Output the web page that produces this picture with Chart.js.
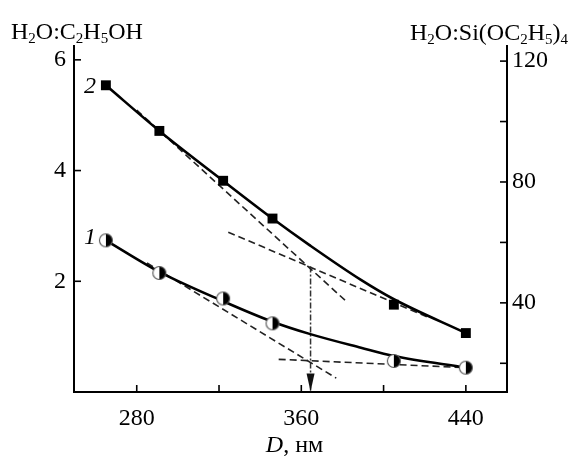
<!DOCTYPE html>
<html>
<head>
<meta charset="utf-8">
<script src="https://cdn.jsdelivr.net/npm/chart.js@4.4.0/dist/chart.umd.min.js"></script>
<style>
  html, body { margin: 0; padding: 0; background: #fff; }
  #wrap { width: 570px; height: 458px; }
</style>
</head>
<body>
<div id="wrap"><canvas id="chart" width="570" height="458"></canvas></div>
<script>
// Dados
const diam = [265, 291, 322, 346, 405, 440];            // D, нм
const ratioEtOH = [2.74, 2.15, 1.69, 1.24, 0.56, 0.44]; // curva 1, eixo esquerdo
const ratioTeos = [112, 96.9, 80.4, 67.9, 39.4, 30.0];  // curva 2, eixo direito

// curvas suaves (ajuste desenhado no original)
const fitDiam = [265, 291, 322, 346, 364, 389, 405, 440];
const fitEtOH = [2.74, 2.17, 1.64, 1.27, 1.05, 0.80, 0.65, 0.44];
const fitTeos = [112, 96.9, 80.4, 67.9, 59.1, 47.6, 41.2, 30.0];

const xTicks = [280, 320, 360, 400, 440];
const xLabels = [280, 360, 440];
const yTicks = [2, 4, 6];
const y2Ticks = [20, 40, 60, 80, 100, 120];
const y2Labels = [40, 80, 120];

// tangentes (tracejadas)
const tanTeosX1 = [280, 382], tanTeosY1 = [103.8, 40.4];
const tanTeosX2 = [324.5, 421], tanTeosY2 = [63.4, 35.4];
const tanEtohX1 = [285, 377], tanEtohY1 = [2.33, 0.25];
const tanEtohX2 = [349, 440], tanEtohY2 = [0.59, 0.44];
// seta vertical
const arrowX = [364.5, 364.5], arrowY = [52, 11];

const FONT = "'Liberation Serif', 'Times New Roman', serif";
const FS = 24;

function pts(xs, ys) {
    return xs.map((x, i) => ({ x: x, y: ys[i] }));
}

// marcador: círculo metade branco, metade preto
function halfCircle() {
    const c = document.createElement('canvas');
    c.width = 16; c.height = 16;
    const g = c.getContext('2d');
    g.beginPath(); g.arc(8, 8, 6.5, 0, Math.PI * 2);
    g.fillStyle = '#fff'; g.fill();
    g.beginPath(); g.arc(8, 8, 6.5, -Math.PI / 2, Math.PI / 2);
    g.closePath(); g.fillStyle = '#000'; g.fill();
    g.beginPath(); g.arc(8, 8, 6.5, 0, Math.PI * 2);
    g.lineWidth = 1.1; g.strokeStyle = '#555'; g.stroke();
    return c;
}

// texto com subscritos
function drawRich(ctx, parts, x, y, align) {
    const big = FS + 'px ' + FONT, small = Math.round(FS * 0.62) + 'px ' + FONT;
    let w = 0;
    parts.forEach(p => { ctx.font = p[1] ? small : big; w += ctx.measureText(p[0]).width; });
    let cx = align === 'right' ? x - w : x;
    ctx.textAlign = 'left';
    ctx.textBaseline = 'alphabetic';
    parts.forEach(p => {
        ctx.font = p[1] ? small : big;
        ctx.fillText(p[0], cx, p[1] ? y + 4 : y);
        cx += ctx.measureText(p[0]).width;
    });
}

const dashed = { borderColor: '#222', borderWidth: 1.6, borderDash: [7, 4], pointRadius: 0, fill: false, tension: 0, order: 3 };

const decor = {
    id: 'decor',
    afterDraw(chart) {
        const ctx = chart.ctx;
        const { x, y, y2 } = chart.scales;
        const a = chart.chartArea;
        ctx.save();
        ctx.strokeStyle = '#000';
        ctx.lineWidth = 1.6;
        // marcas internas
        xTicks.forEach(v => {
            const px = x.getPixelForValue(v);
            ctx.beginPath(); ctx.moveTo(px, a.bottom); ctx.lineTo(px, a.bottom - 7); ctx.stroke();
        });
        yTicks.forEach(v => {
            const py = y.getPixelForValue(v);
            ctx.beginPath(); ctx.moveTo(a.left, py); ctx.lineTo(a.left + 7, py); ctx.stroke();
        });
        y2Ticks.forEach(v => {
            const py = y2.getPixelForValue(v);
            ctx.beginPath(); ctx.moveTo(a.right, py); ctx.lineTo(a.right - 7, py); ctx.stroke();
        });
        // ponta da seta
        const ax = x.getPixelForValue(arrowX[1]);
        const ay = y2.getPixelForValue(arrowY[1]);
        ctx.fillStyle = '#111';
        ctx.beginPath();
        ctx.moveTo(ax, ay + 1); ctx.lineTo(ax - 4, ay - 17); ctx.lineTo(ax + 4, ay - 17);
        ctx.closePath(); ctx.fill();

        ctx.fillStyle = '#000';
        // títulos dos eixos
        drawRich(ctx, [['H'], ['2', 1], ['O:C'], ['2', 1], ['H'], ['5', 1], ['OH']], 11, 39, 'left');
        drawRich(ctx, [['H'], ['2', 1], ['O:Si(OC'], ['2', 1], ['H'], ['5', 1], [')'], ['4', 1]], 568, 40, 'right');

        ctx.textBaseline = 'middle';
        ctx.font = 'italic ' + FS + 'px ' + FONT;
        const w1 = ctx.measureText('D').width;
        ctx.font = FS + 'px ' + FONT;
        const w2 = ctx.measureText(', нм').width;
        const cx = (a.left + a.right) / 2 + 4 - (w1 + w2) / 2;
        ctx.textAlign = 'left';
        ctx.font = 'italic ' + FS + 'px ' + FONT;
        ctx.fillText('D', cx, 446);
        ctx.font = FS + 'px ' + FONT;
        ctx.fillText(', нм', cx + w1, 446);

        // rótulos das curvas
        ctx.font = 'italic ' + FS + 'px ' + FONT;
        ctx.textAlign = 'center';
        ctx.fillText('2', x.getPixelForValue(diam[0]) - 16, y2.getPixelForValue(ratioTeos[0]) + 1);
        ctx.fillText('1', x.getPixelForValue(diam[0]) - 16, y.getPixelForValue(ratioEtOH[0]) - 3);
        ctx.restore();
    }
};

const tickFont = { family: FONT, size: FS };

new Chart(document.getElementById('chart'), {
    type: 'line',
    data: {
        datasets: [
            Object.assign({ data: pts(tanTeosX1, tanTeosY1), yAxisID: 'y2' }, dashed),
            Object.assign({ data: pts(tanTeosX2, tanTeosY2), yAxisID: 'y2' }, dashed),
            Object.assign({ data: pts(tanEtohX1, tanEtohY1), yAxisID: 'y' }, dashed),
            Object.assign({ data: pts(tanEtohX2, tanEtohY2), yAxisID: 'y' }, dashed),
            {
                data: pts(arrowX, arrowY), yAxisID: 'y2', order: 3,
                borderColor: '#333', borderWidth: 1.5, borderDash: [6, 2, 2, 2], pointRadius: 0
            },
            {
                data: pts(fitDiam, fitEtOH), yAxisID: 'y', order: 2,
                borderColor: '#000', borderWidth: 2.6, cubicInterpolationMode: 'monotone', pointRadius: 0
            },
            {
                data: pts(fitDiam, fitTeos), yAxisID: 'y2', order: 2,
                borderColor: '#000', borderWidth: 2.6, cubicInterpolationMode: 'monotone', pointRadius: 0
            },
            {
                label: '1', data: pts(diam, ratioEtOH), yAxisID: 'y', showLine: false, order: 1,
                pointStyle: halfCircle(), pointRadius: 8
            },
            {
                label: '2', data: pts(diam, ratioTeos), yAxisID: 'y2', showLine: false, order: 1,
                pointStyle: 'rect', pointRadius: 7, pointBackgroundColor: '#000', pointBorderWidth: 0
            }
        ]
    },
    options: {
        responsive: false,
        animation: false,
        layout: { padding: { top: 46, left: 0, right: 0, bottom: 0 } },
        plugins: { legend: { display: false }, tooltip: { enabled: false } },
        scales: {
            x: {
                type: 'linear', min: 249.5, max: 460,
                afterBuildTicks: s => { s.ticks = xTicks.map(v => ({ value: v })); },
                afterFit: s => { s.height = 66; },
                ticks: {
                    autoSkip: false, maxRotation: 0, padding: 12, color: '#000', font: tickFont,
                    callback: v => xLabels.includes(v) ? String(v) : ''
                },
                grid: { drawOnChartArea: false, drawTicks: false },
                border: { color: '#000', width: 2 }
            },
            y: {
                position: 'left', min: 0, max: 6.25,
                afterBuildTicks: s => { s.ticks = yTicks.map(v => ({ value: v })); },
                afterFit: s => { s.width = 74; },
                ticks: { padding: 8, color: '#000', font: tickFont },
                grid: { drawOnChartArea: false, drawTicks: false },
                border: { color: '#000', width: 2 }
            },
            y2: {
                position: 'right', min: 10.5, max: 125,
                afterBuildTicks: s => { s.ticks = y2Ticks.map(v => ({ value: v })); },
                afterFit: s => { s.width = 63; },
                ticks: {
                    padding: 5, color: '#000', font: tickFont,
                    callback: v => y2Labels.includes(v) ? String(v) : ''
                },
                grid: { drawOnChartArea: false, drawTicks: false },
                border: { color: '#000', width: 2 }
            }
        }
    },
    plugins: [decor]
});
</script>
</body>
</html>
